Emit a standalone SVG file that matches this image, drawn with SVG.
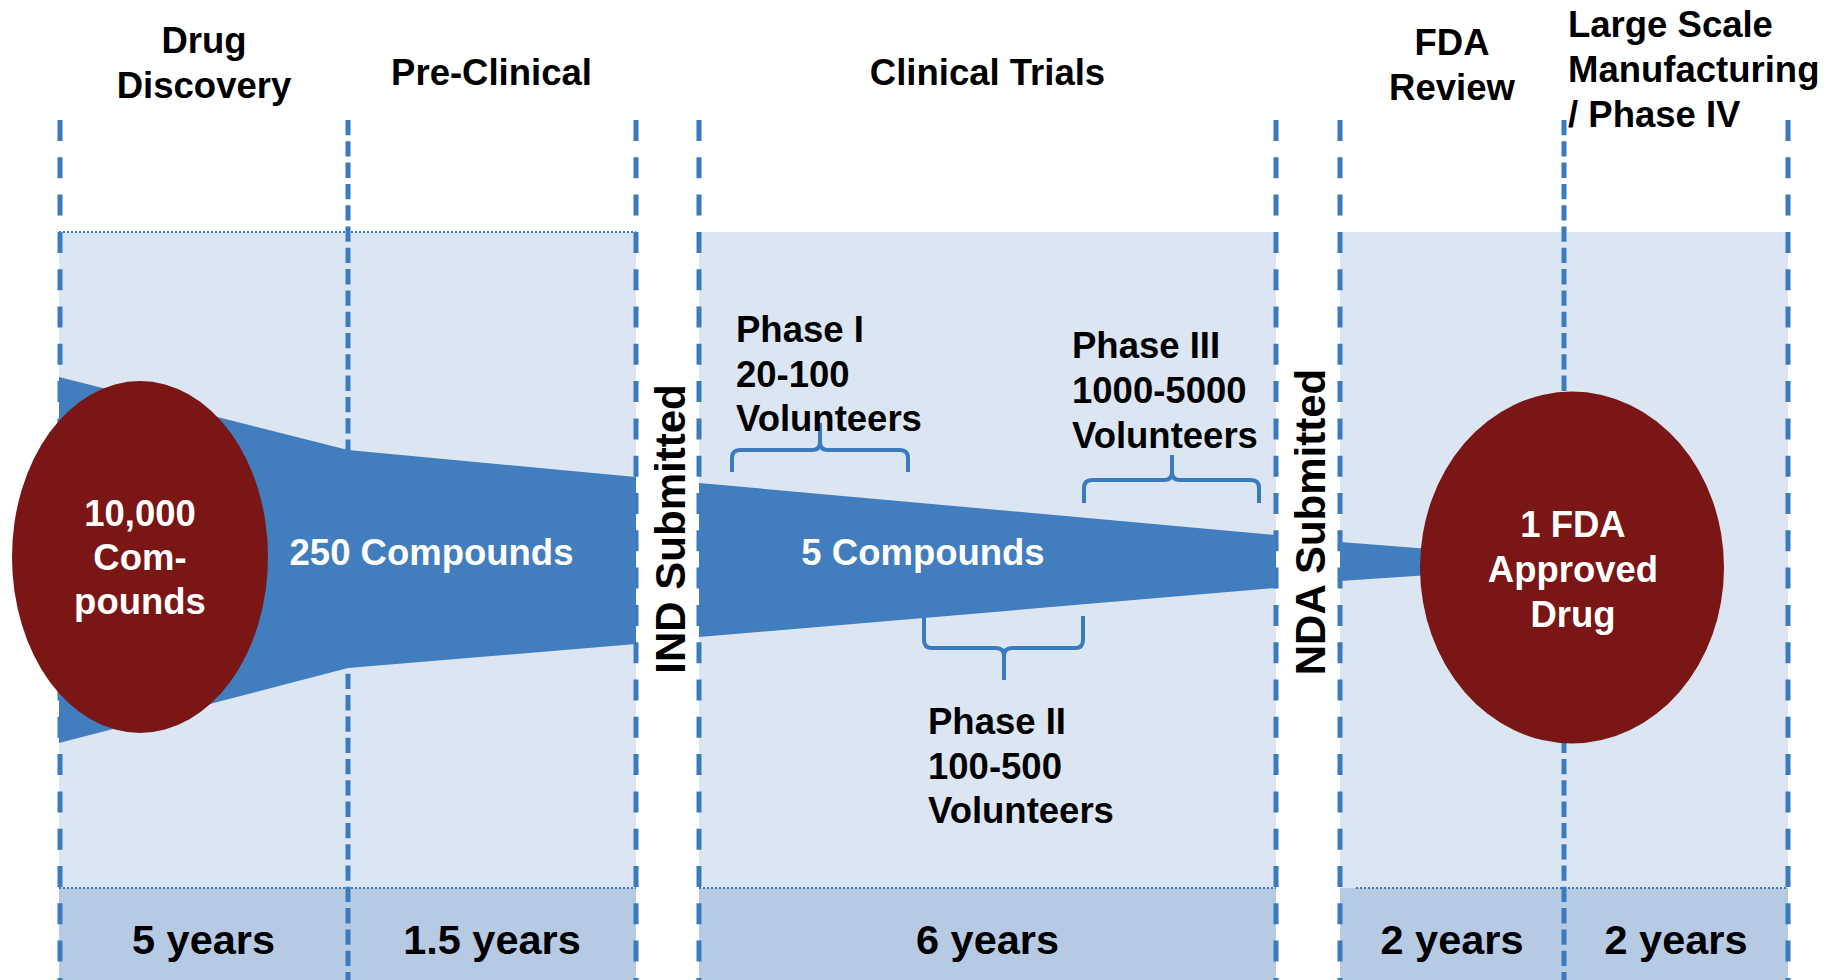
<svg xmlns="http://www.w3.org/2000/svg" width="1843" height="980" viewBox="0 0 1843 980">
<defs>
<style>
.t{font-family:"Liberation Sans",Arial,sans-serif;font-weight:bold;font-size:36.5px;fill:#000}
.w{fill:#fff}
.m{text-anchor:middle}
.y{font-size:41.5px}
.v{font-size:42px}
.band{fill:#DCE6F2}
.yb{fill:#B7CAE3}
.dot{stroke:#3A7BBF;stroke-width:2;stroke-dasharray:2 2;fill:none}
.dl{stroke:#3A7BBF;stroke-width:5;stroke-dasharray:21 16.3;fill:none}
.ds{stroke:#3A7BBF;stroke-width:5;stroke-dasharray:15.3 6;fill:none}
.fun{fill:#427DBD}
.ell{fill:#7A1616}
.br{stroke:#3A7BBF;stroke-width:4;fill:none;stroke-linejoin:round}
</style>
</defs>
<rect width="1843" height="980" fill="#fff"/>
<g id="bands">
<rect class="band" x="59" y="232" width="577" height="656"/>
<rect class="band" x="699" y="232" width="577" height="656"/>
<rect class="band" x="1340" y="232" width="448" height="656"/>
<rect class="yb" x="59" y="888" width="577" height="92"/>
<rect class="yb" x="699" y="888" width="577" height="92"/>
<rect class="yb" x="1340" y="888" width="448" height="92"/>
<line class="dot" x1="59" y1="232" x2="636" y2="232"/>
<line class="dot" x1="59" y1="888" x2="636" y2="888"/>
<line class="dot" x1="699" y1="888" x2="1276" y2="888"/>
<line class="dot" x1="1356" y1="888" x2="1788" y2="888"/>
</g>
<g id="connectors">
<line class="dl" x1="60" y1="120" x2="60" y2="980"/>
<line class="ds" x1="348" y1="120" x2="348" y2="980"/>
<line class="dl" x1="636" y1="120" x2="636" y2="980"/>
<line class="dl" x1="699" y1="120" x2="699" y2="980"/>
<line class="dl" x1="1276" y1="120" x2="1276" y2="980"/>
<line class="dl" x1="1340" y1="120" x2="1340" y2="980"/>
<line class="ds" x1="1564" y1="120" x2="1564" y2="980"/>
<line class="dl" x1="1788" y1="120" x2="1788" y2="980"/>
<path class="br" d="M732,472 V458 Q732,450 740,450 H812 Q820,450 820,442 V423 M820,442 Q820,450 828,450 H900 Q908,450 908,458 V472"/>
<path class="br" d="M1084,503 V488 Q1084,480 1092,480 H1164 Q1172,480 1172,472 V455 M1172,472 Q1172,480 1180,480 H1251 Q1259,480 1259,488 V503"/>
<path class="br" d="M924,616 V640 Q924,648 932,648 H996 Q1004,648 1004,656 V680 M1004,656 Q1004,648 1012,648 H1075 Q1083,648 1083,640 V616"/>
</g>
<g id="funnel">
<polygon class="fun" points="59,377 348,450 636,477 636,644 348,668 59,743"/>
<polygon class="fun" points="699,483 1276,535 1276,588 699,637"/>
<polygon class="fun" points="1340,542 1430,549 1430,575 1340,581"/>
</g>
<g id="node-start">
<ellipse class="ell" cx="140" cy="557" rx="128" ry="176"/>
<text class="t w m" x="140" y="526">10,000</text>
<text class="t w m" x="140" y="570">Com-</text>
<text class="t w m" x="140" y="614">pounds</text>
</g>
<g id="node-end">
<ellipse class="ell" cx="1572" cy="567.5" rx="152" ry="176"/>
<text class="t w m" x="1573" y="537">1 FDA</text>
<text class="t w m" x="1573" y="582">Approved</text>
<text class="t w m" x="1573" y="627">Drug</text>
</g>
<g id="labels-funnel">
<text class="t w m" x="431.5" y="565">250 Compounds</text>
<text class="t w m" x="923" y="565">5 Compounds</text>
</g>
<g id="phases">
<text class="t" x="736" y="342">Phase I</text>
<text class="t" x="736" y="387">20-100</text>
<text class="t" x="736" y="431">Volunteers</text>
<text class="t" x="1072" y="358">Phase III</text>
<text class="t" x="1072" y="403">1000-5000</text>
<text class="t" x="1072" y="448">Volunteers</text>
<text class="t" x="928" y="734">Phase II</text>
<text class="t" x="928" y="779">100-500</text>
<text class="t" x="928" y="823">Volunteers</text>
</g>
<g id="submissions">
<text class="t v m" transform="translate(685,529) rotate(-90)">IND Submitted</text>
<text class="t v m" transform="translate(1325,522) rotate(-90)">NDA Submitted</text>
</g>
<g id="headers">
<text class="t m" x="204" y="53">Drug</text>
<text class="t m" x="204" y="97.5">Discovery</text>
<text class="t m" x="491.5" y="85">Pre-Clinical</text>
<text class="t m" x="987.5" y="85">Clinical Trials</text>
<text class="t m" x="1452" y="55">FDA</text>
<text class="t m" x="1452" y="100">Review</text>
<text class="t" x="1568" y="37">Large Scale</text>
<text class="t" x="1568" y="82">Manufacturing</text>
<text class="t" x="1568" y="127">/ Phase IV</text>
</g>
<g id="years">
<text class="t y m" x="203.5" y="954">5 years</text>
<text class="t y m" x="492" y="954">1.5 years</text>
<text class="t y m" x="987.5" y="954">6 years</text>
<text class="t y m" x="1452" y="954">2 years</text>
<text class="t y m" x="1676" y="954">2 years</text>
</g>
</svg>
